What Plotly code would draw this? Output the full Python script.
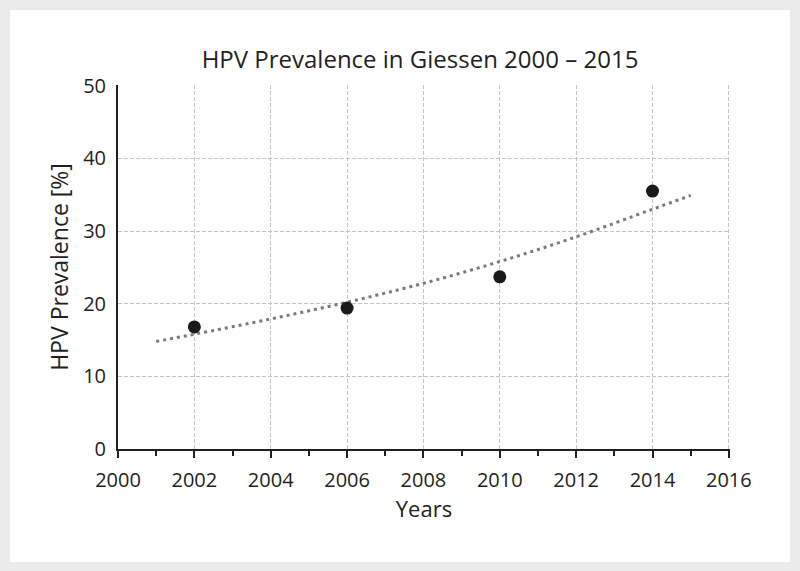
import plotly.graph_objects as go

years = [2002, 2006, 2010, 2014]
prevalence = [16.8, 19.4, 23.7, 35.5]

trend_years = [2001, 2002, 2004, 2006, 2008, 2010, 2012, 2014, 2015]
trend_values = [14.8, 15.8, 17.9, 20.2, 22.8, 25.8, 29.2, 33.0, 34.9]

x_ticks = [2000, 2002, 2004, 2006, 2008, 2010, 2012, 2014, 2016]
x_minor = [2001, 2003, 2005, 2007, 2009, 2011, 2013, 2015]
y_ticks = [0, 10, 20, 30, 40, 50]

FONT = "Open Sans"
INK = "#231f20"
GRID = "#c4c4c4"

fig = go.Figure()
fig.add_trace(go.Scatter(x=trend_years, y=trend_values, mode="lines",
                         line=dict(color="#7a7a7a", width=3, dash="3px,4px"),
                         line_shape="spline", showlegend=False, hoverinfo="skip"))
fig.add_trace(go.Scatter(x=years, y=prevalence, mode="markers",
                         marker=dict(color="#1a1a1a", size=13), showlegend=False))

L, R, T, B = 118, 730, 85, 449
W, H = 800, 571
pw, ph = R - L, B - T
fig.add_shape(type="rect", xref="paper", yref="paper", layer="below",
              x0=(10 - L) / pw, x1=(790 - L) / pw,
              y0=(B - 562) / ph, y1=(B - 10) / ph,
              fillcolor="white", line=dict(width=0))

fig.update_layout(
    width=W, height=H,
    margin=dict(l=L, r=W - R, t=T, b=H - B),
    paper_bgcolor="#ebebeb", plot_bgcolor="white",
    font=dict(family=FONT, color=INK),
    title=dict(text="HPV Prevalence in Giessen 2000 – 2015", x=420 / W, xanchor="center",
               y=1 - 60 / H, yanchor="middle", font=dict(size=24, family=FONT, color=INK)),
)
fig.update_xaxes(range=[2000, 2016.03], tickvals=x_ticks, ticktext=[str(v) for v in x_ticks],
                 showline=True, linecolor=INK, linewidth=2,
                 ticks="outside", ticklen=7, tickwidth=2, tickcolor=INK,
                 ticklabelstandoff=5,
                 minor=dict(tickvals=x_minor, ticks="outside", ticklen=5, tickwidth=2,
                            tickcolor=INK, showgrid=False),
                 showgrid=True, gridcolor=GRID, griddash="4px,2px", gridwidth=1,
                 zeroline=False, tickfont=dict(size=20),
                 title=dict(text="Years", font=dict(size=22), standoff=6))
fig.update_yaxes(range=[0, 50.1], tickvals=y_ticks, ticktext=[str(v) for v in y_ticks],
                 showline=True, linecolor=INK, linewidth=2, ticks="",
                 ticklabelstandoff=6,
                 showgrid=True, gridcolor=GRID, griddash="4px,2px", gridwidth=1,
                 zeroline=False, tickfont=dict(size=20),
                 title=dict(text="HPV Prevalence [%]", font=dict(size=23), standoff=8))

fig.write_html("out.html", config={"displayModeBar": False},
               post_script="document.body.style.margin='0';")
